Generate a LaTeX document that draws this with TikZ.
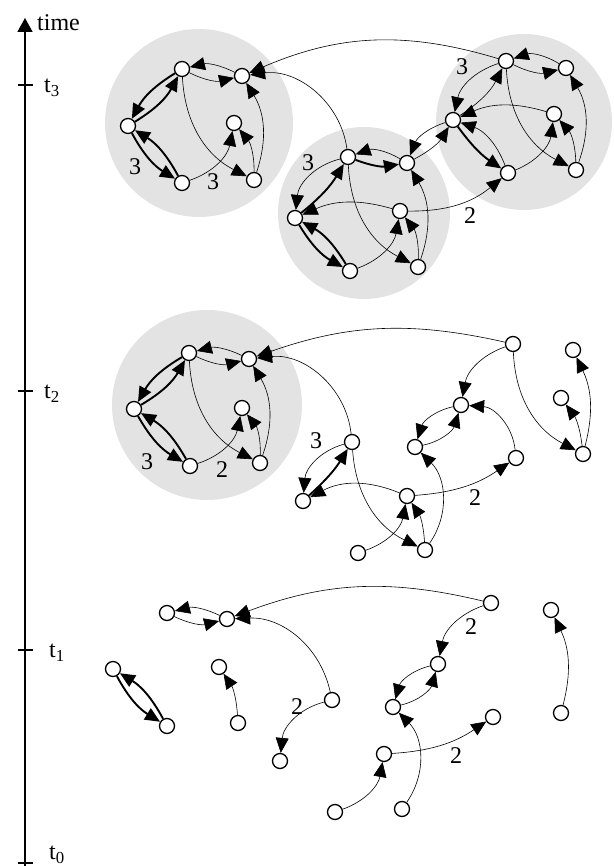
\documentclass[tikz,border=0pt]{standalone}
\usepackage{fontspec}
\setmainfont{Liberation Serif}
\usetikzlibrary{arrows.meta}

\begin{document}
\begin{tikzpicture}[x=1pt,y=1pt,
vtx/.style={circle,draw,fill=white,line width=1.3pt,minimum size=15pt,inner sep=0pt},
arr/.style={-{Triangle[length=15pt,width=13pt]},line width=0.6pt},
tarr/.style={-{Triangle[length=15pt,width=13pt]},line width=1.9pt},
blob/.style={fill=black!11},
lbl/.style={font=\fontsize{24}{26}\selectfont,inner sep=0pt}
]
\useasboundingbox (0,0) rectangle (613,866);

% time axis
\coordinate (ax0) at (25,0);
\coordinate (ax1) at (25,848);
\draw[line width=1.6pt,-{Triangle[length=14pt,width=15pt]}] (ax0) -- (ax1);
\node[lbl,anchor=west] (time) at (37,843) {time};
\foreach \y/\n/\x/\d in {781/3/44/-3,475/2/44/-3,216/1/49/-3,3/0/49/8}{
  \draw[line width=1.4pt] (18,\y) -- (33,\y);
  \node[lbl,anchor=west] (t\n) at (\x,\y+\d) {t\textsubscript{\n}};
}

% shaded groups
\fill[blob] (199,743) circle (94);
\fill[blob] (364,653) circle (86);
\fill[blob] (524,744) circle (88);
\fill[blob] (207,461) circle (95);

% t3
\node[vtx] (a1) at (182,797) {};
\node[vtx] (a2) at (242,790) {};
\node[vtx] (a3) at (128,740) {};
\node[vtx] (a4) at (234,743) {};
\node[vtx] (a5) at (182,683) {};
\node[vtx] (a6) at (254,686) {};
\node[vtx] (b1) at (348,709) {};
\node[vtx] (b2) at (407,703) {};
\node[vtx] (b3) at (295,648) {};
\node[vtx] (b4) at (400,655) {};
\node[vtx] (b5) at (350,595) {};
\node[vtx] (b6) at (418,599) {};
\node[vtx] (c1) at (506,805) {};
\node[vtx] (c2) at (566,798) {};
\node[vtx] (c3) at (453,746) {};
\node[vtx] (c4) at (554,752) {};
\node[vtx] (c5) at (508,693) {};
\node[vtx] (c6) at (576,696) {};

\draw[tarr] (a1) to[bend right=15] (a3);
\draw[tarr] (a3) to[bend right=15] (a1);
\draw[tarr] (a3) to[bend right=15] (a5);
\draw[tarr] (a5) to[bend right=15] (a3);
\draw[arr] (a5) to[bend right=30] (a4);
\draw[arr] (a6) to[bend right=20] (a4);
\draw[arr] (a1) to[bend right=30] (a6);
\draw[arr] (a6) to[bend right=25] (a2);
\draw[arr] (a1) to[bend right=20] (a2);
\draw[arr] (a2) to[bend right=20] (a1);

\draw[arr] (b1) to[bend right=35] (b3);
\draw[tarr] (b3) to[bend right=10] (b1);
\draw[tarr] (b1) to[bend right=15] (b2);
\draw[arr] (b2) to[bend right=25] (b1);
\draw[tarr] (b3) to[bend right=15] (b5);
\draw[tarr] (b5) to[bend right=15] (b3);
\draw[arr] (b4) to[bend right=20] (b3);
\draw[arr] (b5) to[bend right=30] (b4);
\draw[arr] (b6) to[bend right=20] (b4);
\draw[arr] (b1) to[bend right=30] (b6);
\draw[arr] (b6) to[bend right=25] (b2);

\draw[arr] (c1) to[bend right=30] (c3);
\draw[arr] (c3) to[bend right=15] (c1);
\draw[arr] (c1) to[bend right=20] (c2);
\draw[arr] (c2) to[bend right=25] (c1);
\draw[arr] (c4) to[bend right=20] (c3);
\draw[tarr] (c3) to[bend right=10] (c5);
\draw[arr] (c5) to[bend right=25] (c3);
\draw[arr] (c5) to[bend right=30] (c4);
\draw[arr] (c6) to[bend right=20] (c4);
\draw[arr] (c1) to[bend right=30] (c6);
\draw[arr] (c6) to[bend right=25] (c2);

\draw[arr] (c1) to[bend right=20] (a2);
\draw[arr] (b1) to[bend right=45] (a2);
\draw[arr] (b4) to[bend right=20] (c5);
\draw[arr] (b2) to[bend right=15] (c3);
\draw[arr] (c3) to[bend right=25] (b2);

\node[lbl] (la1) at (135,699) {3};
\node[lbl] (la2) at (213,684) {3};
\node[lbl] (lb1) at (308,703) {3};
\node[lbl] (lc1) at (462,799) {3};
\node[lbl] (lbc) at (470,650) {2};

% t2
\node[vtx] (d1) at (189,513) {};
\node[vtx] (d2) at (249,507) {};
\node[vtx] (d3) at (134,457) {};
\node[vtx] (d4) at (242,458) {};
\node[vtx] (d5) at (190,400) {};
\node[vtx] (d6) at (260,403) {};
\node[vtx] (p1) at (513,522) {};
\node[vtx] (p2) at (461,461) {};
\node[vtx] (p3) at (415,419) {};
\node[vtx] (p4) at (516,408) {};
\node[vtx] (p5) at (407,370) {};
\node[vtx] (p6) at (573,516) {};
\node[vtx] (p7) at (561,468) {};
\node[vtx] (p8) at (583,412) {};
\node[vtx] (q1) at (352,424) {};
\node[vtx] (q2) at (425,316) {};
\node[vtx] (q3) at (358,313) {};
\node[vtx] (q4) at (303,365) {};

\draw[tarr] (d1) to[bend right=15] (d3);
\draw[tarr] (d3) to[bend right=15] (d1);
\draw[tarr] (d3) to[bend right=15] (d5);
\draw[tarr] (d5) to[bend right=15] (d3);
\draw[arr] (d5) to[bend right=30] (d4);
\draw[arr] (d6) to[bend right=20] (d4);
\draw[arr] (d1) to[bend right=30] (d6);
\draw[arr] (d6) to[bend right=25] (d2);
\draw[arr] (d1) to[bend right=20] (d2);
\draw[arr] (d2) to[bend right=20] (d1);

\draw[arr] (p1) to[bend right=16] (d2);
\draw[arr] (q1) to[bend right=45] (d2);
\draw[arr] (q1) to[bend right=35] (q4);
\draw[tarr] (q4) to[bend right=8] (q1);
\draw[arr] (p5) to[bend right=25] (q4);
\draw[arr] (q1) to[bend right=30] (q2);
\draw[arr] (q2) to[bend right=15] (p5);
\draw[arr] (q3) to[bend right=30] (p5);
\draw[arr] (q2) to[bend right=40] (p3);
\draw[arr] (p5) to[bend right=15] (p4);
\draw[arr] (p4) to[bend right=40] (p2);
\draw[arr] (p2) to[bend right=30] (p3);
\draw[arr] (p3) to[bend right=30] (p2);
\draw[arr] (p1) to[bend right=30] (p2);
\draw[arr] (p1) to[bend right=30] (p8);
\draw[arr] (p8) to[bend right=15] (p7);
\draw[arr] (p8) to[bend right=20] (p6);

\node[lbl] (ld1) at (147,404) {3};
\node[lbl] (ld2) at (222,396) {2};
\node[lbl] (lq1) at (316,425) {3};
\node[lbl] (lp5) at (475,368) {2};

% t1
\node[vtx] (r1) at (167,253) {};
\node[vtx] (r2) at (227,247) {};
\node[vtx] (r3) at (113,197) {};
\node[vtx] (r4) at (167,140) {};
\node[vtx] (r5) at (219,199) {};
\node[vtx] (r6) at (238,143) {};
\node[vtx] (r7) at (332,166) {};
\node[vtx] (r8) at (280,105) {};
\node[vtx] (s1) at (491,263) {};
\node[vtx] (s2) at (438,202) {};
\node[vtx] (s3) at (393,159) {};
\node[vtx] (s4) at (493,149) {};
\node[vtx] (s5) at (384,112) {};
\node[vtx] (s6) at (402,57) {};
\node[vtx] (s7) at (551,256) {};
\node[vtx] (s8) at (561,153) {};
\node[vtx] (s9) at (335,54) {};

\draw[arr] (r1) to[bend right=20] (r2);
\draw[arr] (r2) to[bend right=20] (r1);
\draw[arr] (s1) to[bend right=17] (r2);
\draw[arr] (r7) to[bend right=40] (r2);
\draw[tarr] (r3) to[bend right=15] (r4);
\draw[tarr] (r4) to[bend right=15] (r3);
\draw[arr] (r6) to[bend right=15] (r5);
\draw[arr] (r7) to[bend right=35] (r8);
\draw[arr] (s1) to[bend right=30] (s2);
\draw[arr] (s2) to[bend right=30] (s3);
\draw[arr] (s3) to[bend right=30] (s2);
\draw[arr] (s6) to[bend right=40] (s3);
\draw[arr] (s5) to[bend right=15] (s4);
\draw[arr] (s9) to[bend right=30] (s5);
\draw[arr] (s8) to[bend right=20] (s7);

\node[lbl] (lr7) at (297,159) {2};
\node[lbl] (ls1) at (471,239) {2};
\node[lbl] (ls5) at (456,110) {2};
\end{tikzpicture}
\end{document}
